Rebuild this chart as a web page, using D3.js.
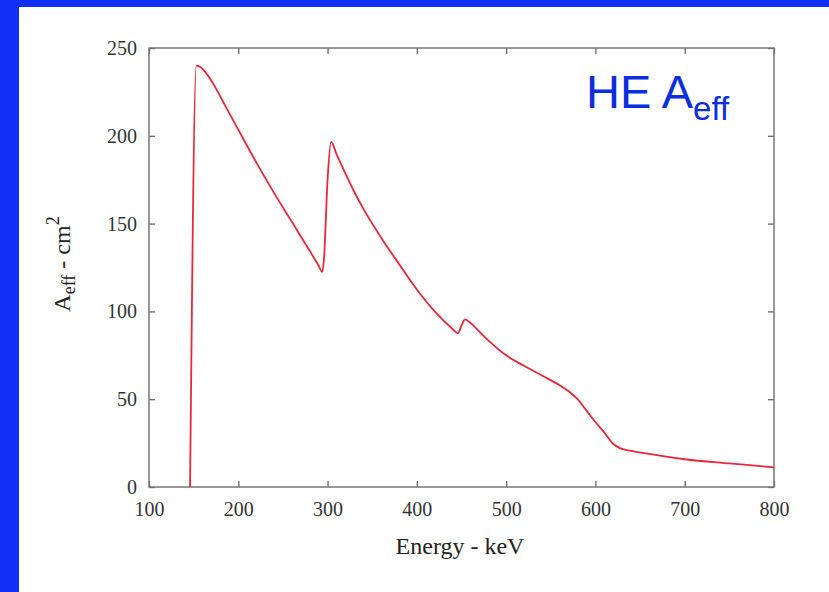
<!DOCTYPE html>
<html>
<meta charset="utf-8">
<style>
body { margin: 0; background: #1030f8; }
svg { display: block; }
.tick text { font-family: 'Liberation Serif', serif; font-size: 20px; fill: #333; }
.title { font-family: 'Liberation Serif', serif; font-size: 24px; fill: #222; }
.label { font-family: 'Liberation Sans', Arial, sans-serif; fill: #0a2ee0; }
</style>
<body>
<svg width="829" height="592"></svg>
<script src="https://cdn.jsdelivr.net/npm/d3@7"></script>
<script>

// energy in keV
var energy = [146, 153, 158, 165, 175, 185, 200, 220, 240, 260, 280, 290, 294, 296, 300, 304,
  310, 320, 330, 340, 360, 380, 400, 420, 440, 446, 450, 454, 460, 470, 480, 500, 520, 540, 560, 570,
  580, 590, 600, 610, 620, 628, 640, 660, 700, 750, 800];
// effective area, cm^2
var area = [0, 240, 239, 235, 227, 217.5, 203.5, 185, 167.5, 151, 134.5, 126, 122.5, 130, 175, 196.5,
  189.5, 178.5, 168, 158.5, 142, 127, 112.5, 100, 90, 87.5, 92, 95.5, 93.5, 88.5, 83.5, 75, 69, 63.5, 58, 54.5,
  50, 43.5, 37, 31, 24.5, 22, 20.6, 18.8, 15.8, 13.4, 11.2];
var xTicks = [100, 200, 300, 400, 500, 600, 700, 800];
var yTicks = [0, 50, 100, 150, 200, 250];

var data = energy.map(function(e, i) { return {e: e, a: area[i]}; });

var svg = d3.select("svg");

svg.append("rect").attr("x", 19).attr("y", 7).attr("width", 829 - 19).attr("height", 592 - 7)
  .attr("fill", "#fff");

var pl = 149, pr = 774, pt = 48, pb = 487;

var x = d3.scaleLinear().domain([100, 800]).range([pl, pr]);
var y = d3.scaleLinear().domain([0, 250]).range([pb, pt]);

function styleAxis(g) {
  g.select(".domain").remove();
  g.selectAll(".tick line").attr("stroke", "#666").attr("stroke-width", 1.3);
}

svg.append("g").attr("transform", "translate(0," + pb + ")")
  .call(d3.axisBottom(x).tickValues(xTicks).tickSize(-6).tickPadding(15))
  .call(styleAxis);
svg.append("g").attr("transform", "translate(0," + pt + ")")
  .call(d3.axisTop(x).tickValues(xTicks).tickSize(-6).tickFormat(""))
  .call(styleAxis);
svg.append("g").attr("transform", "translate(" + pl + ",0)")
  .call(d3.axisLeft(y).tickValues(yTicks).tickSize(-6).tickPadding(12))
  .call(styleAxis);
svg.append("g").attr("transform", "translate(" + pr + ",0)")
  .call(d3.axisRight(y).tickValues(yTicks).tickSize(-6).tickFormat(""))
  .call(styleAxis);

svg.append("rect").attr("x", pl).attr("y", pt)
  .attr("width", pr - pl).attr("height", pb - pt)
  .attr("fill", "none").attr("stroke", "#777").attr("stroke-width", 1.5);

var line = d3.line()
  .x(function(d) { return x(d.e); })
  .y(function(d) { return y(d.a); })
  .curve(d3.curveMonotoneX);

svg.append("path").datum(data)
  .attr("d", line)
  .attr("fill", "none")
  .attr("stroke", "#e8283a")
  .attr("stroke-width", 1.8);

svg.append("text").attr("class", "title")
  .attr("x", 460).attr("y", 554)
  .attr("text-anchor", "middle")
  .text("Energy - keV");

var yt = svg.append("text").attr("class", "title")
  .attr("transform", "translate(70,264) rotate(-90)")
  .attr("font-size", 25)
  .attr("text-anchor", "middle");
yt.append("tspan").text("A");
yt.append("tspan").attr("font-size", 18).attr("dy", 5).text("eff");
yt.append("tspan").attr("dy", -5).text(" - cm");
yt.append("tspan").attr("font-size", 18).attr("dy", -11).text("2");

var lab = svg.append("text").attr("class", "label")
  .attr("x", 586).attr("y", 108).attr("font-size", 47);
lab.append("tspan").text("HE A");
lab.append("tspan").attr("font-size", 33).attr("dy", 12).text("eff");

</script>
</body>
</html>
